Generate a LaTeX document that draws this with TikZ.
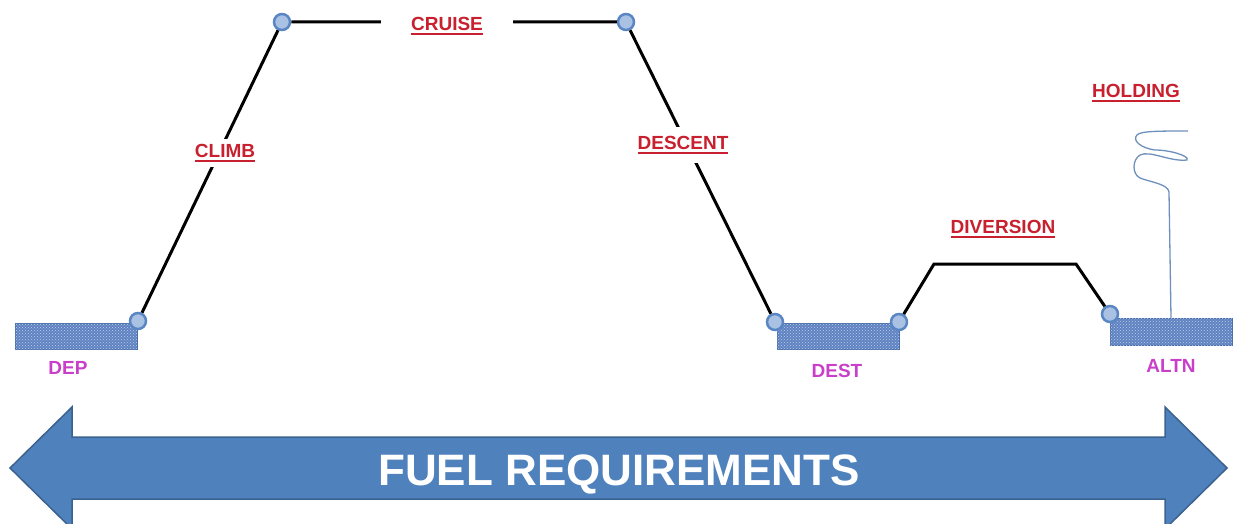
\documentclass[tikz,border=0pt]{standalone}
\usepackage{fontspec}
\setmainfont{Liberation Sans}
\usetikzlibrary{patterns}
\definecolor{rwyblue}{HTML}{5F82C2}
\definecolor{rwyedge}{HTML}{4A6FA8}
\definecolor{wpfill}{HTML}{A9C1E3}
\definecolor{wpdraw}{HTML}{5A86C4}
\definecolor{phasered}{HTML}{C8202E}
\definecolor{aptpink}{HTML}{C93FC9}
\definecolor{arrowfill}{HTML}{4F81BD}
\definecolor{arrowedge}{HTML}{3B628F}
\definecolor{holdblue}{HTML}{6F90BC}
\newcommand\ulbl[1]{\setbox0\hbox{#1}\vtop{\copy0\kern2.5pt\hrule height1.6pt width\wd0}}
\begin{document}
\begin{tikzpicture}[x=1pt,y=-1pt,
                    route/.style={line width=3pt},
                    waypt/.style={circle,fill=wpfill,draw=wpdraw,line width=2.5pt,minimum size=16pt,inner sep=0pt},
                    rwy/.style={rectangle,draw=rwyedge,fill=rwyblue,minimum width=122pt,minimum height=26pt,inner sep=0pt,
                                postaction={pattern=crosshatch dots,pattern color=white!60!rwyblue}},
                    phase/.style={fill=white,text=phasered,font=\fontsize{19}{22}\selectfont\bfseries,inner sep=5pt},
                    place/.style={text=aptpink,font=\fontsize{19}{22}\selectfont\bfseries,inner sep=0pt},
                    hold/.style={holdblue,line width=1.3pt}]
 \useasboundingbox (0,0) rectangle (1235,524);
 \node[rwy] (deprwy) at (76,336) {};
 \node[rwy] (destrwy) at (838,336) {};
 \node[rwy,minimum height=27pt] (altnrwy) at (1171,331.5) {};
 \node[waypt] (dep) at (138,321) {};
 \node[waypt] (toc) at (282,22) {};
 \node[waypt] (tod) at (626,22) {};
 \node[waypt] (destin) at (775,322) {};
 \node[waypt] (destout) at (899,322) {};
 \node[waypt] (altn) at (1110,314) {};
 \coordinate (dv1) at (934,264);
 \coordinate (dv2) at (1076,264);
 \draw[route] (dep) -- (toc) -- (tod) -- (destin);
 \draw[route] (destout) -- (dv1) -- (dv2) -- (altn);
 \node[phase] (climb) at (225,153) {\ulbl{CLIMB}};
 \node[phase,inner xsep=30pt] (cruise) at (447,26) {\ulbl{CRUISE}};
 \node[phase,inner ysep=9pt] (descent) at (683,145) {\ulbl{DESCENT}};
 \node[phase] (diversion) at (1003,229) {\ulbl{DIVERSION}};
 \node[phase] (holding) at (1136,93) {\ulbl{HOLDING}};
 \draw[hold] (altnrwy.north) -- (1169,192) .. controls (1168,184) and (1150,182) .. (1140,178)
   .. controls (1132,174) and (1132,160) .. (1140,155) .. controls (1150,150) and (1170,162) .. (1187,160)
   .. controls (1190,156) and (1170,150) .. (1155,150) .. controls (1140,148) and (1132,140) .. (1137,135)
   .. controls (1140,131) and (1160,131) .. (1188,131);
 \node[place] (deplbl) at (68,368) {DEP};
 \node[place] (destlbl) at (837,371) {DEST};
 \node[place] (altnlbl) at (1171,366) {ALTN};
 \filldraw[fill=arrowfill,draw=arrowedge,line width=1.5pt,line join=miter]
   (10,468) -- (72,407) -- (72,437) -- (1165,437) -- (1165,407) -- (1227,468) -- (1165,529)
   -- (1165,499) -- (72,499) -- (72,529) -- cycle;
 \node[text=white,font=\fontsize{44}{48}\selectfont\bfseries,anchor=base] (fuel) at (619,485) {FUEL REQUIREMENTS};
\end{tikzpicture}
\end{document}
